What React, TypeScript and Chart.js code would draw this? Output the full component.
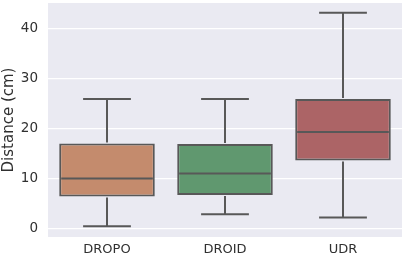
import React, { useEffect, useRef } from "react";
import { Chart, registerables } from "chart.js";

Chart.register(...registerables);

const categories = ["DROPO", "DROID", "UDR"];
const whiskerLow = [0.4, 2.85, 2.2];
const q1 = [6.4, 6.7, 13.6];
const median = [10.0, 11.0, 19.3];
const q3 = [17.0, 16.9, 25.9];
const whiskerHigh = [25.9, 25.9, 43.2];
const yTicks = [0, 10, 20, 30, 40];
const boxColors = ["#C48B6D", "#60986F", "#AC6466"];

const LINE = "#585858";
const TEXT = "#303030";
const FONT = "'DejaVu Sans', sans-serif";

const bgPlugin = {
  id: "bgPlugin",
  beforeDraw(chart: any) {
    const { ctx, chartArea } = chart;
    ctx.save();
    ctx.fillStyle = "#EAEAF2";
    ctx.fillRect(chartArea.left, chartArea.top, chartArea.right - chartArea.left, chartArea.bottom - chartArea.top);
    ctx.restore();
  },
};

const boxPlugin = {
  id: "boxPlugin",
  afterDatasetsDraw(chart: any) {
    const { ctx } = chart;
    const y = chart.scales.y;
    const meta = chart.getDatasetMeta(0);
    ctx.save();
    ctx.strokeStyle = LINE;
    ctx.lineWidth = 2;
    ctx.lineCap = "butt";
    meta.data.forEach((bar: any, i: number) => {
      const { x: cx, width: w } = bar.getProps(["x", "width"], true);
      const yLo = y.getPixelForValue(whiskerLow[i]);
      const yQ1 = y.getPixelForValue(q1[i]);
      const yMed = y.getPixelForValue(median[i]);
      const yQ3 = y.getPixelForValue(q3[i]);
      const yHi = y.getPixelForValue(whiskerHigh[i]);
      ctx.beginPath();
      ctx.moveTo(cx, yQ3 - 1);
      ctx.lineTo(cx, yHi);
      ctx.moveTo(cx - w / 4, yHi);
      ctx.lineTo(cx + w / 4, yHi);
      ctx.moveTo(cx, yQ1 + 1);
      ctx.lineTo(cx, yLo);
      ctx.moveTo(cx - w / 4, yLo);
      ctx.lineTo(cx + w / 4, yLo);
      ctx.moveTo(cx - w / 2 + 2, yMed);
      ctx.lineTo(cx + w / 2 - 2, yMed);
      ctx.stroke();
    });
    ctx.restore();
  },
};

export default function App() {
  const ref = useRef<HTMLCanvasElement | null>(null);

  useEffect(() => {
    document.body.style.margin = "0";
    if (!ref.current) return;
    const chart = new Chart(ref.current, {
      type: "bar",
      data: {
        labels: categories,
        datasets: [
          {
            data: categories.map((_, i) => [q1[i], q3[i]]) as any,
            backgroundColor: boxColors,
            borderColor: LINE,
            borderWidth: 2,
            borderSkipped: false,
            barPercentage: 1,
            categoryPercentage: 0.81,
          },
        ],
      },
      options: {
        animation: false,
        responsive: false,
        devicePixelRatio: 1,
        layout: { autoPadding: false, padding: { top: 3, right: 2, left: 0, bottom: 0 } },
        plugins: { legend: { display: false }, tooltip: { enabled: false } },
        scales: {
          x: {
            grid: { display: false, drawTicks: false },
            border: { display: false },
            ticks: { color: TEXT, font: { family: FONT, size: 13 }, padding: 5, maxRotation: 0 },
            afterFit(scale: any) {
              scale.height = 21;
              scale.paddingLeft = 0;
              scale.paddingRight = 0;
            },
          },
          y: {
            min: -1.73,
            max: 45.13,
            grid: { color: "#FFFFFF", lineWidth: 1.2, drawTicks: false },
            border: { display: false },
            ticks: { color: TEXT, font: { family: FONT, size: 13.5 }, padding: 10 },
            title: {
              display: true,
              text: "Distance (cm)",
              color: TEXT,
              font: { family: FONT, size: 15 },
              padding: { top: 0, bottom: 0 },
            },
            afterBuildTicks(scale: any) {
              scale.ticks = yTicks.map((v) => ({ value: v }));
            },
            afterFit(scale: any) {
              scale.width = 48;
              scale.paddingTop = 0;
              scale.paddingBottom = 0;
            },
          },
        },
      },
      plugins: [bgPlugin, boxPlugin],
    });
    return () => chart.destroy();
  }, []);

  return (
    <div style={{ width: 404, height: 258 }}>
      <canvas ref={ref} width={404} height={258} style={{ display: "block" }} />
    </div>
  );
}
